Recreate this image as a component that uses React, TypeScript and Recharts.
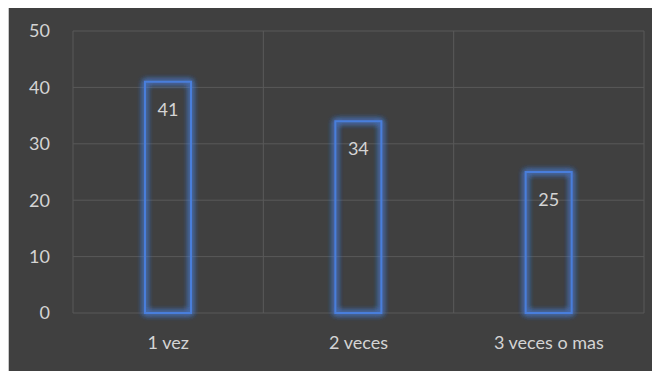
import { BarChart, Bar, XAxis, YAxis, CartesianGrid, LabelList } from "recharts";

const categories = ["1 vez", "2 veces", "3 veces o mas"];
const counts = [41, 34, 25];
const yTicks = [0, 10, 20, 30, 40, 50];

const data = categories.map((name, i) => ({ name, value: counts[i] }));

const BG = "#404040";
const GRID = "#595959";
const TEXT = "#d4d4d4";
const BLUE = "#4a7edb";
const FONT = "Lato, 'Open Sans', sans-serif";

// vertical gridlines sit on the category boundaries, not the centres
const boundaryLines = ({ offset }: any) => {
  const n = categories.length;
  return Array.from({ length: n + 1 }, (_, i) => offset.left + (offset.width * i) / n);
};

// outlined bar with a soft blue glow
const GlowBar = (props: any) => {
  const { x, y, width, height } = props;
  return (
    <rect
      x={x}
      y={y}
      width={width}
      height={height}
      fill="none"
      stroke={BLUE}
      strokeWidth={2}
      filter="url(#barGlow)"
    />
  );
};

export default function App() {
  return (
    <div
      style={{
        marginTop: -7,
        width: 651,
        height: 369,
        background: BG,
        borderLeft: "1px solid #c8c8c8",
        borderTop: "1px solid #d8d8d8",
        fontFamily: FONT,
      }}
    >
      <svg width={0} height={0} style={{ position: "absolute" }}>
        <defs>
          <filter id="barGlow" x="-40%" y="-10%" width="180%" height="120%">
            <feGaussianBlur in="SourceGraphic" stdDeviation={3} result="blur" />
            <feMerge>
              <feMergeNode in="blur" />
              <feMergeNode in="blur" />
              <feMergeNode in="blur" />
              <feMergeNode in="SourceGraphic" />
            </feMerge>
          </filter>
        </defs>
      </svg>
      <BarChart
        width={651}
        height={369}
        data={data}
        margin={{ top: 29, right: 16, left: 0, bottom: 18 }}
      >
        <CartesianGrid
          stroke={GRID}
          strokeWidth={1}
          verticalCoordinatesGenerator={boundaryLines}
        />
        <XAxis
          dataKey="name"
          axisLine={false}
          tickLine={false}
          tickSize={0}
          tickMargin={23}
          height={40}
          tick={{ fill: TEXT, fontSize: 18, fontFamily: FONT }}
        />
        <YAxis
          domain={[0, 50]}
          ticks={yTicks}
          width={64}
          axisLine={false}
          tickLine={false}
          tickSize={0}
          tickMargin={23}
          tick={{ fill: TEXT, fontSize: 18, fontFamily: FONT }}
        />
        <Bar dataKey="value" barSize={46} shape={GlowBar} isAnimationActive={false}>
          <LabelList
            dataKey="value"
            position="insideTop"
            offset={21}
            fill={TEXT}
            fontSize={18}
            fontFamily={FONT}
          />
        </Bar>
      </BarChart>
    </div>
  );
}
